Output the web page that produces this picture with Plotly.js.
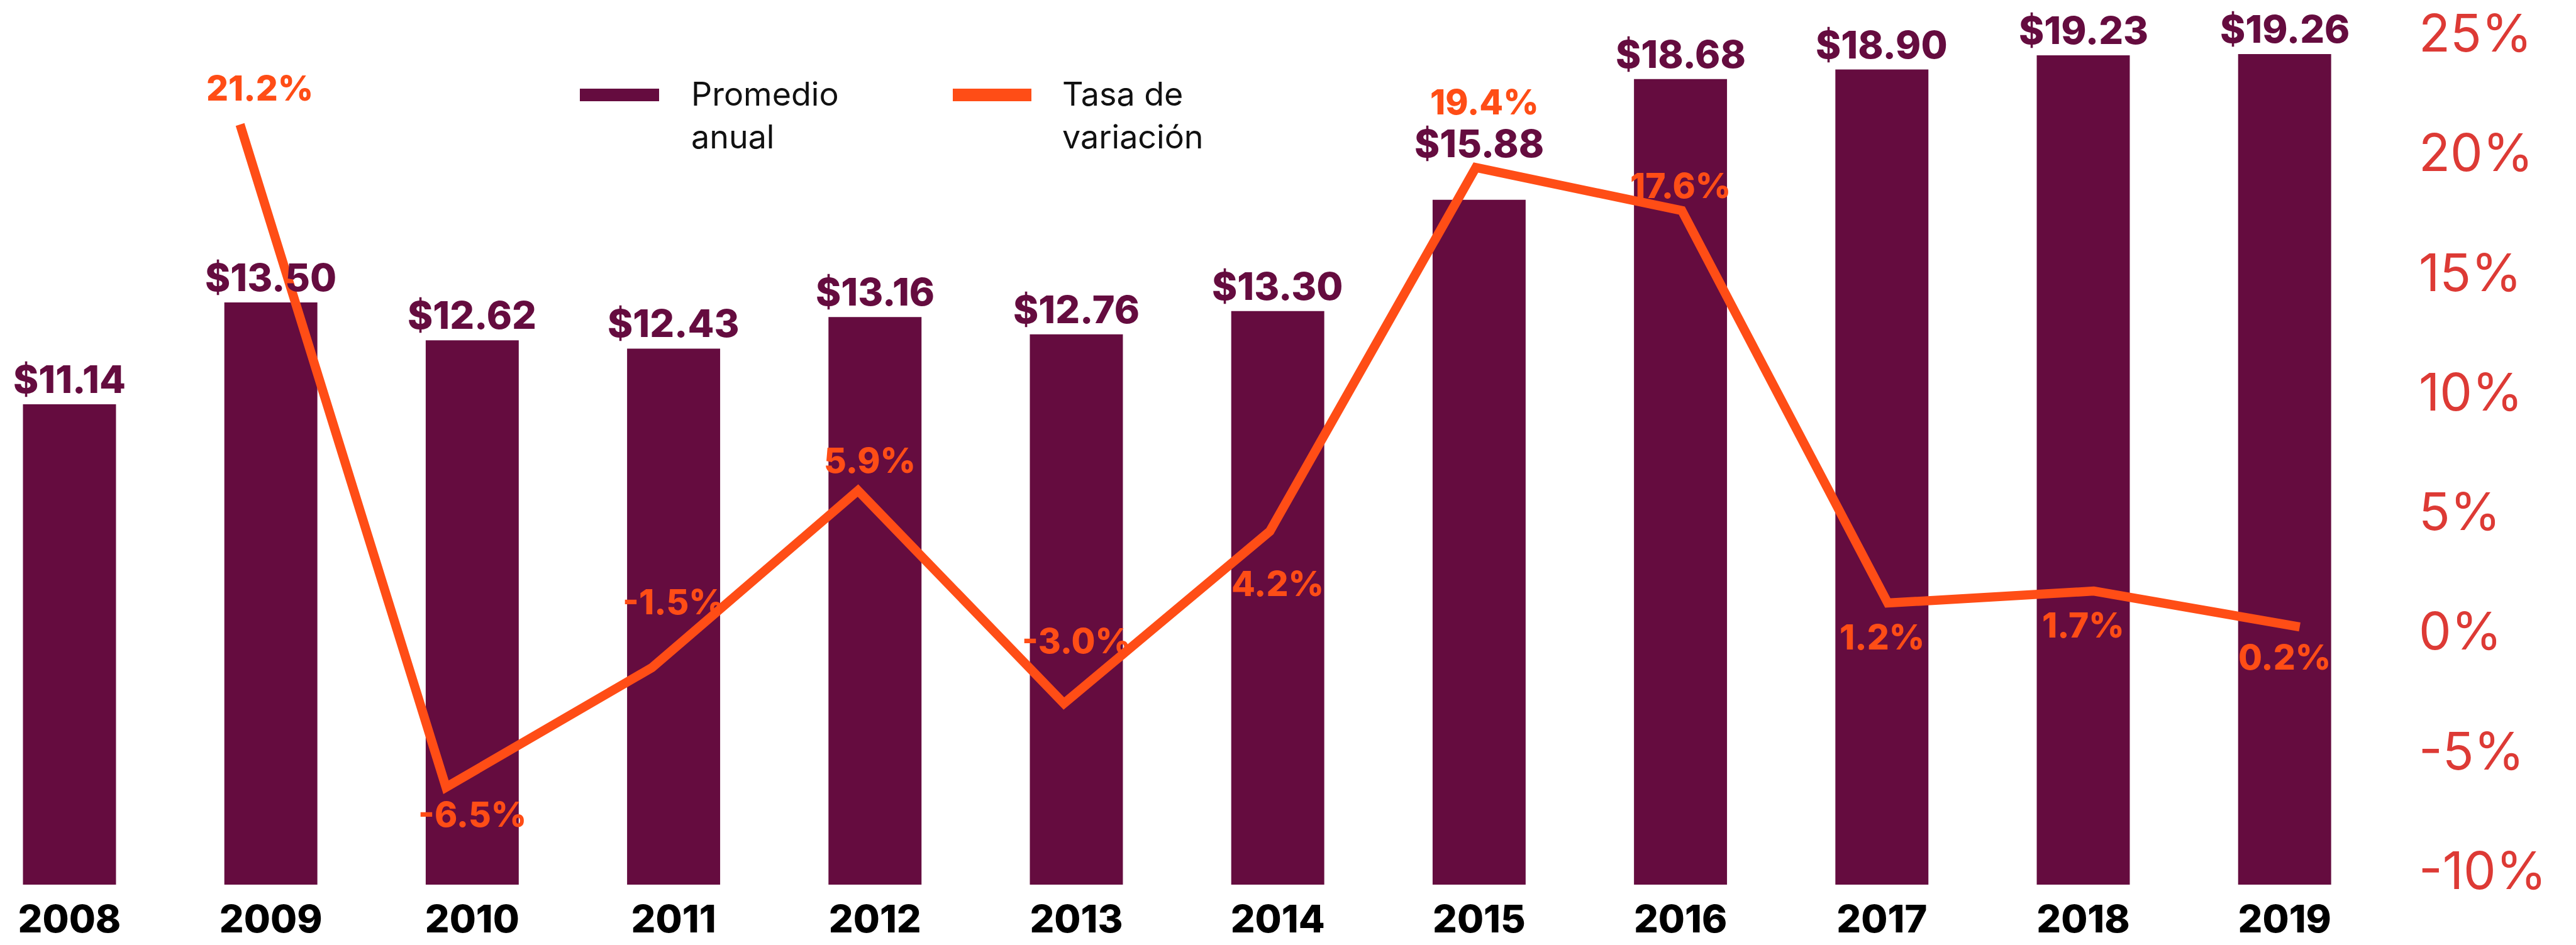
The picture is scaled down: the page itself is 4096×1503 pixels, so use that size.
<!DOCTYPE html>
<html><head><meta charset="utf-8">
<script src="https://cdn.plot.ly/plotly-3.0.1.min.js"></script>
<style>html,body{margin:0;padding:0;background:#fff;}#chart{width:4096px;height:1503px;}</style>
</head><body><div id="chart"></div>
<script>
// ---- data ----
const years = ['2008','2009','2010','2011','2012','2013','2014','2015','2016','2017','2018','2019'];
const promedio = [11.14, 13.50, 12.62, 12.43, 13.16, 12.76, 13.30, 15.88, 18.68, 18.90, 19.23, 19.26];
const tasaYears = ['2009','2010','2011','2012','2013','2014','2015','2016','2017','2018','2019'];
const tasa = [21.2, -6.5, -1.5, 5.9, -3.0, 4.2, 19.4, 17.6, 1.2, 1.7, 0.2];
const pctTicks = [-10, -5, 0, 5, 10, 15, 20, 25];
const pctTickLabels = ['-10%', '-5%', '0%', '5%', '10%', '15%', '20%', '25%'];
const legendNames = ['Promedio<br>anual', 'Tasa de<br>variación'];

// ---- style ----
const COLOR_BAR = '#650C3F', COLOR_LINE = '#FF4D16', COLOR_AXIS = '#DD3A35';
const FONT = 'Inter, Roboto, "Open Sans", sans-serif';
const W = 4096, H = 1503;
const M = {l: 0, r: 251, t: 53, b: 96};
const plotW = W - M.l - M.r, plotH = H - M.t - M.b;
const px2paperX = px => (px - M.l) / plotW;
const px2paperY = py => 1 - (py - M.t) / plotH;

const barLabelShift = [40,40,40,40,40,40,40,90,40,40,40,40];
const pctLabelShift = [58,-43,105,48,100,-83,104,40,-54,-54,-48];
const pctLabelXShift = [-18,0,0,-8,0,0,9,0,0,0,0];

const barTrace = {
  type: 'bar', x: years, y: promedio, xaxis: 'x', yaxis: 'y',
  marker: {color: COLOR_BAR, line: {width: 0}}, width: 0.462,
  hoverinfo: 'none', showlegend: false
};
const lineTrace = {
  type: 'scatter', mode: 'lines', x: tasaYears.map(Number), y: tasa,
  xaxis: 'x2', yaxis: 'y2', line: {color: COLOR_LINE, width: 14.5},
  hoverinfo: 'none', showlegend: false
};

const annotations = [];
// category axis: annotation x given as category index (numeric-like names would be read as numbers)
years.forEach((yr, i) => {
  annotations.push({
    x: years.indexOf(yr), y: promedio[i], xref: 'x', yref: 'y', text: '$' + promedio[i].toFixed(2),
    showarrow: false, xanchor: 'center', yanchor: 'middle', yshift: barLabelShift[i],
    font: {family: FONT, size: 61, color: COLOR_BAR, weight: 800}
  });
});
tasaYears.forEach((yr, i) => {
  annotations.push({
    x: years.indexOf(yr), y: tasa[i], xref: 'x', yref: 'y2', text: tasa[i].toFixed(1) + '%',
    showarrow: false, xanchor: 'center', yanchor: 'middle',
    yshift: pctLabelShift[i], xshift: pctLabelXShift[i],
    font: {family: FONT, size: 55, color: COLOR_LINE, weight: 800}
  });
});
// custom legend text
[[1097, legendNames[0]], [1687, legendNames[1]]].forEach(([px, txt]) => {
  annotations.push({
    x: px2paperX(px), y: px2paperY(116), xref: 'paper', yref: 'paper', text: txt,
    showarrow: false, xanchor: 'left', yanchor: 'top', align: 'left',
    font: {family: FONT, size: 52, color: '#111111', weight: 400}
  });
});

const shapes = [
  {type: 'rect', xref: 'paper', yref: 'paper', x0: px2paperX(922), x1: px2paperX(1048),
   y0: px2paperY(161), y1: px2paperY(141), fillcolor: COLOR_BAR, line: {width: 0}},
  {type: 'rect', xref: 'paper', yref: 'paper', x0: px2paperX(1515), x1: px2paperX(1640),
   y0: px2paperY(161), y1: px2paperY(141), fillcolor: COLOR_LINE, line: {width: 0}}
];

const layout = {
  width: W, height: H, margin: M, paper_bgcolor: '#fff', plot_bgcolor: '#fff',
  showlegend: false, font: {family: FONT},
  xaxis: {type: 'category', range: [-0.345, 11.663], autorange: false, showgrid: false, zeroline: false,
          showline: false, ticks: '', ticklabelstandoff: 14,
          tickfont: {family: FONT, size: 61, color: '#000', weight: 800}},
  xaxis2: {type: 'linear', overlaying: 'x', anchor: 'y', range: [2007.8345, 2019.575], autorange: false, visible: false},
  yaxis: {range: [0, 19.74], autorange: false, visible: false, showgrid: false, zeroline: false},
  yaxis2: {overlaying: 'y', side: 'right', anchor: 'x', range: [-10.57, 25.01], autorange: false,
           tickvals: pctTicks, ticktext: pctTickLabels, showgrid: false, zeroline: false,
           showline: false, ticks: '', ticklabeloverflow: 'allow',
           tickfont: {family: FONT, size: 82, color: COLOR_AXIS, weight: 400}},
  annotations: annotations, shapes: shapes
};

Plotly.newPlot('chart', [barTrace, lineTrace], layout, {staticPlot: true, displayModeBar: false});
</script>
</body></html>
